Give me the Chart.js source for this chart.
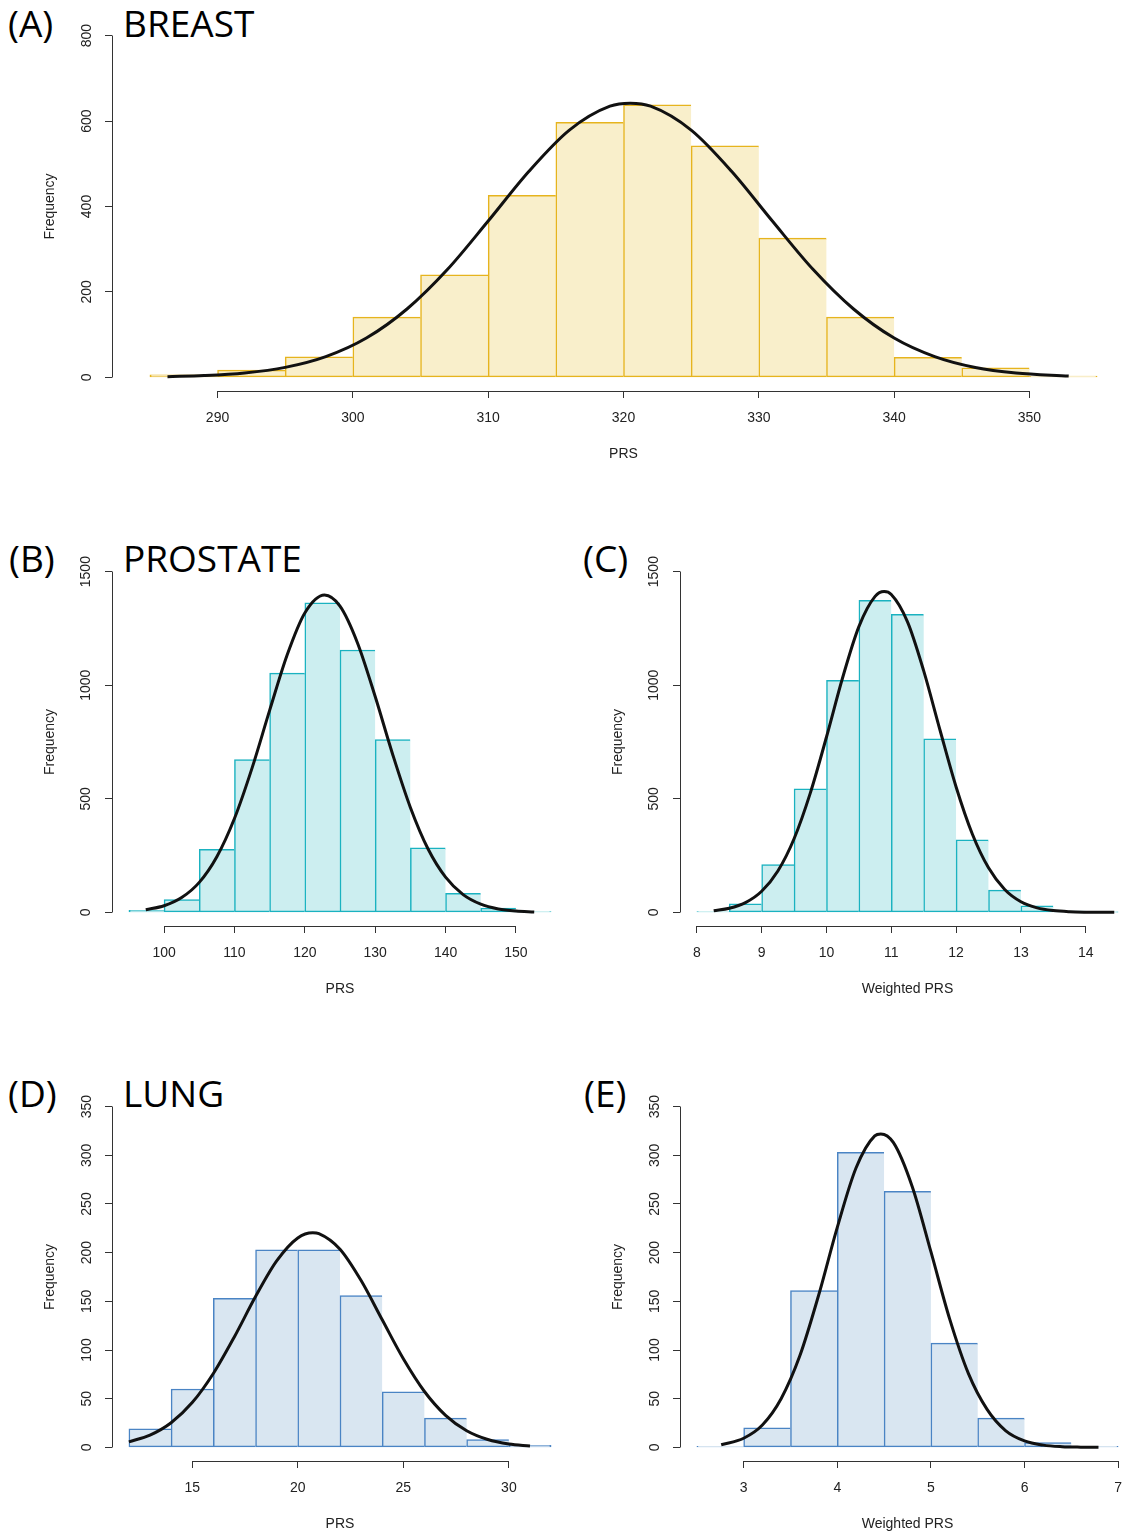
<!DOCTYPE html>
<html>
<head>
<meta charset="utf-8">
<script src="https://cdn.jsdelivr.net/npm/chart.js@4/dist/chart.umd.min.js"></script>
<style>
html,body{margin:0;padding:0;width:1122px;height:1537px;overflow:hidden;background:#fff;}
canvas{position:absolute;}
.lbl{position:absolute;font-family:"Open Sans";font-size:37px;line-height:1;color:#000;white-space:nowrap;}
</style>
</head>
<body>
<div class="lbl" style="left:8px;top:4px">(A)</div>
<div class="lbl" style="left:123px;top:4px">BREAST</div>
<div class="lbl" style="left:9px;top:539px">(B)</div>
<div class="lbl" style="left:123px;top:539px">PROSTATE</div>
<div class="lbl" style="left:583px;top:539px">(C)</div>
<div class="lbl" style="left:8px;top:1074px">(D)</div>
<div class="lbl" style="left:123px;top:1074px">LUNG</div>
<div class="lbl" style="left:584px;top:1074px">(E)</div>

<canvas id="cA" width="1140" height="480" style="left:0;top:0"></canvas>
<canvas id="cB" width="570" height="495" style="left:0;top:520px"></canvas>
<canvas id="cC" width="570" height="495" style="left:570px;top:520px"></canvas>
<canvas id="cD" width="570" height="495" style="left:0;top:1055px"></canvas>
<canvas id="cE" width="570" height="495" style="left:570px;top:1055px"></canvas>

<script>
// ---------- DATA ----------
// (A) Breast PRS
const breastBinEdges = [285,290,295,300,305,310,315,320,325,330,335,340,345,350,355];
const breastCounts   = [6,17,48,141,240,426,597,638,542,326,141,47,22,3];
const breastXTicks   = [290,300,310,320,330,340,350];
const breastYTicks   = [0,200,400,600,800];
const breastCurveX   = [286.3,289,292,295,298,301,304,307,310,313,316,319,320.5,322,325,328,331,334,337,340,343,346,349,352.9];
const breastCurveY   = [1.6,4.1,10.2,23.3,48.5,92,160,253,366,482,579,635,642,635,579,482,366,253,160,92,48.5,23,10,3];

// (B) Prostate PRS
const prostateBinEdges = [95,100,105,110,115,120,125,130,135,140,145,150,155];
const prostateCounts   = [9,56,278,673,1053,1363,1155,761,284,84,19,3];
const prostateXTicks   = [100,110,120,130,140,150];
const prostateYTicks   = [0,500,1000,1500];
const prostateCurveX   = [97.4,100,102.5,105,107.5,110,112.5,115,117.5,120,122.8,125,127.5,130,132.5,135,137.5,140,142.5,145,147.5,150,152.6];
const prostateCurveY   = [11.5,29,65,132,245,413,635,889,1134,1318,1397,1348,1185,950,694,462,280,155,78,36,15,5.7,1.9];

// (C) Prostate weighted PRS
const prostateWBinEdges = [8,8.5,9,9.5,10,10.5,11,11.5,12,12.5,13,13.5,14,14.5];
const prostateWCounts   = [3,38,210,544,1022,1374,1312,764,319,98,29,6,1];
const prostateWXTicks   = [8,9,10,11,12,13,14];
const prostateWYTicks   = [0,500,1000,1500];
const prostateWCurveX   = [8.26,8.5,8.75,9,9.25,9.5,9.75,10,10.25,10.5,10.75,10.89,11,11.25,11.5,11.75,12,12.25,12.5,12.75,13,13.25,13.5,13.75,14,14.25,14.44];
const prostateWCurveY   = [7.3,18,43,93,182,324,525,772,1034,1258,1391,1412,1399,1279,1063,804,552,345,196,101,47,20,7.9,2.8,0.9,0.3,0.1];

// (D) Lung PRS
const lungBinEdges = [12,14,16,18,20,22,24,26,28,30,32];
const lungCounts   = [19,60,153,203,203,156,57,30,8,2];
const lungXTicks   = [15,20,25,30];
const lungYTicks   = [0,50,100,150,200,250,300,350];
const lungCurveX   = [12,13,14,15,16,17,18,19,20,20.71,21,22,23,24,25,26,27,28,29,30,31];
const lungCurveY   = [5.7,12.6,25.3,46,75.9,113.7,154.9,191.5,215.1,220.4,219.5,203.5,171.3,131,91,57.4,32.9,17.1,8.1,3.5,1.4];

// (E) Lung weighted PRS
const lungWBinEdges = [2.5,3,3.5,4,4.5,5,5.5,6,6.5,7];
const lungWCounts   = [1,20,161,303,263,107,30,5,1];
const lungWXTicks   = [3,4,5,6,7];
const lungWYTicks   = [0,50,100,150,200,250,300,350];
const lungWCurveX   = [2.76,3.0,3.2,3.4,3.6,3.8,4.0,4.2,4.4,4.465,4.6,4.8,5.0,5.2,5.4,5.6,5.8,6.0,6.2,6.4,6.6,6.79];
const lungWCurveY   = [2.7,9.4,23,50,94,156,226,287,320,322,313,268,201,132,76,39,17,6.6,2.3,0.7,0.2,0.05];

// ---------- STYLE ----------
const axisColor = '#333';
const textColor = '#222';
const tickFont = {family: 'Liberation Sans', size: 14};
const X_AXIS_H = 89;

const alignPx = p => Math.round(p - 0.5) + 0.5;
const rAxisLines = {
  id: 'rAxisLines',
  afterDraw(chart) {
    const {ctx, chartArea} = chart;
    const xs = chart.scales.x, ys = chart.scales.y;
    ctx.save();
    ctx.strokeStyle = axisColor;
    ctx.lineWidth = 1;
    const x0 = alignPx(xs.getPixelForValue(xs.ticks[0].value));
    const x1 = alignPx(xs.getPixelForValue(xs.ticks[xs.ticks.length - 1].value));
    const yb = alignPx(chartArea.bottom);
    ctx.beginPath(); ctx.moveTo(x0, yb); ctx.lineTo(x1, yb); ctx.stroke();
    const y0 = alignPx(ys.getPixelForValue(ys.ticks[0].value));
    const y1 = alignPx(ys.getPixelForValue(ys.ticks[ys.ticks.length - 1].value));
    const xl = alignPx(chartArea.left);
    ctx.beginPath(); ctx.moveTo(xl, y0); ctx.lineTo(xl, y1); ctx.stroke();
    ctx.restore();
  }
};

function histChart(id, p) {
  const bars = p.counts.map((c, i) => ({x: (p.edges[i] + p.edges[i + 1]) / 2, y: c}));
  const curve = p.curveX.map((x, i) => ({x: x, y: p.curveY[i]}));
  const lo = p.edges[0], hi = p.edges[p.edges.length - 1];
  const span = hi - lo;
  const yTop = p.yTicks[p.yTicks.length - 1];
  const last = bars.length - 1;
  const bw = 1.5;
  return new Chart(document.getElementById(id), {
    data: {
      datasets: [
        {type: 'line', data: curve, borderColor: '#111', borderWidth: 3, pointRadius: 0,
         cubicInterpolationMode: 'monotone', fill: false, order: 0},
        {type: 'bar', data: bars, backgroundColor: p.fill, borderColor: p.stroke, borderSkipped: false,
         borderWidth: ctx => ({top: bw, bottom: bw, left: bw, right: ctx.dataIndex === last ? bw : 0}),
         barPercentage: 1, categoryPercentage: 1, order: 1}
      ]
    },
    options: {
      responsive: false, animation: false, devicePixelRatio: 1,
      layout: {padding: {left: 0, top: p.padTop, right: p.padRight, bottom: 0}},
      plugins: {legend: {display: false}, tooltip: {enabled: false}},
      scales: {
        x: {
          type: 'linear', min: lo - 0.04 * span, max: hi + 0.04 * span, offset: false,
          afterBuildTicks: s => { s.ticks = p.xTicks.map(v => ({value: v})); },
          afterFit: s => { s.height = X_AXIS_H; },
          grid: {drawOnChartArea: false, drawTicks: true, tickLength: 7, color: axisColor, offset: false},
          border: {display: false},
          ticks: {autoSkip: false, minRotation: 0, maxRotation: 0, padding: 12, color: textColor, font: tickFont,
                  callback: v => String(v)},
          title: {display: true, text: p.xTitle, color: textColor, font: tickFont,
                  padding: {top: 0, bottom: X_AXIS_H - 63 - 8.4}}
        },
        y: {
          type: 'linear', min: -0.04 * yTop, max: yTop * 1.04,
          afterBuildTicks: s => { s.ticks = p.yTicks.map(v => ({value: v})); },
          afterFit: s => { s.width = p.yW; },
          grid: {drawOnChartArea: false, drawTicks: true, tickLength: 7, color: axisColor},
          border: {display: false},
          ticks: {autoSkip: false, minRotation: 90, maxRotation: 90, crossAlign: 'center', padding: p.yPad,
                  color: textColor, font: tickFont, callback: v => String(v)},
          title: {display: true, text: 'Frequency', color: textColor, font: tickFont,
                  padding: {top: p.yW - 62 - 8.4, bottom: 0}}
        }
      }
    },
    plugins: [rAxisLines]
  });
}

const yellow = {fill: '#F9EFCB', stroke: '#E6B41E'};
const teal   = {fill: '#CCEEF0', stroke: '#1AB2C0'};
const blue   = {fill: '#D9E6F1', stroke: '#4A84C4'};

histChart('cA', Object.assign({edges: breastBinEdges, counts: breastCounts, xTicks: breastXTicks, yTicks: breastYTicks,
  curveX: breastCurveX, curveY: breastCurveY, xTitle: 'PRS', yW: 112, yPad: 6, padTop: 22, padRight: 5}, yellow));
histChart('cB', Object.assign({edges: prostateBinEdges, counts: prostateCounts, xTicks: prostateXTicks, yTicks: prostateYTicks,
  curveX: prostateCurveX, curveY: prostateCurveY, xTitle: 'PRS', yW: 112, yPad: 3, padTop: 38, padRight: 2}, teal));
histChart('cC', Object.assign({edges: prostateWBinEdges, counts: prostateWCounts, xTicks: prostateWXTicks, yTicks: prostateWYTicks,
  curveX: prostateWCurveX, curveY: prostateWCurveY, xTitle: 'Weighted PRS', yW: 110, yPad: 3, padTop: 38, padRight: 5}, teal));
histChart('cD', Object.assign({edges: lungBinEdges, counts: lungCounts, xTicks: lungXTicks, yTicks: lungYTicks,
  curveX: lungCurveX, curveY: lungCurveY, xTitle: 'PRS', yW: 112, yPad: 6, padTop: 38, padRight: 2}, blue));
histChart('cE', Object.assign({edges: lungWBinEdges, counts: lungWCounts, xTicks: lungWXTicks, yTicks: lungWYTicks,
  curveX: lungWCurveX, curveY: lungWCurveY, xTitle: 'Weighted PRS', yW: 110, yPad: 6, padTop: 38, padRight: 5}, blue));
</script>
</body>
</html>
